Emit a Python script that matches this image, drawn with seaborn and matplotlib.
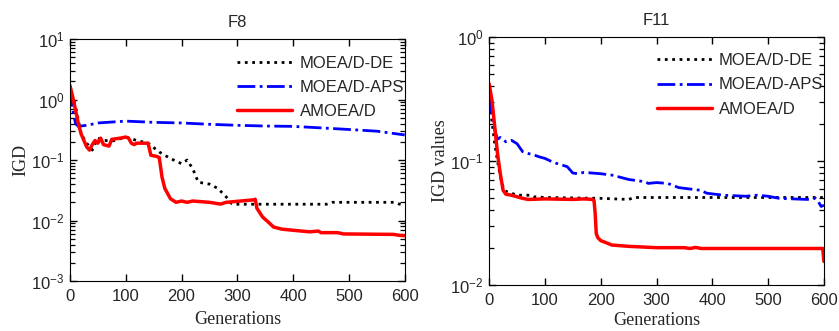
import numpy as np
import pandas as pd
import seaborn as sns
import matplotlib.pyplot as plt
from matplotlib.ticker import LogLocator, NullFormatter

# F8 curves (generation, IGD)
f8_gen_de = [0, 10, 20, 30, 40, 50, 60, 80, 100, 120, 140, 160, 180, 200, 210, 220, 230, 250, 265, 280, 290,
             300, 460, 470, 580, 600]
f8_de = [1.6, 0.76, 0.27, 0.19, 0.146, 0.23, 0.21, 0.21, 0.24, 0.21, 0.19, 0.136, 0.106, 0.087, 0.1, 0.072,
         0.043, 0.04, 0.034, 0.0246, 0.019, 0.0186, 0.0186, 0.02, 0.02, 0.0176]

f8_gen_aps = [0, 5, 10, 15, 30, 50, 100, 150, 200, 250, 300, 350, 400, 450, 500, 550, 580, 600]
f8_aps = [1.5, 0.67, 0.40, 0.36, 0.375, 0.41, 0.44, 0.42, 0.41, 0.39, 0.375, 0.365, 0.36, 0.34, 0.32, 0.30,
          0.275, 0.26]

f8_gen_am = [0, 5, 10, 15, 20, 25, 30, 35, 40, 45, 50, 55, 60, 70, 75, 90, 100, 105, 110, 115, 120, 140,
             145, 155, 160, 165, 170, 180, 190, 200, 210, 220, 250, 270, 280, 330, 332, 335, 345, 355, 365,
             380, 400, 430, 445, 450, 480, 490, 580, 590, 600]
f8_am = [1.7, 1.1, 0.67, 0.40, 0.27, 0.21, 0.165, 0.146, 0.18, 0.21, 0.19, 0.23, 0.18, 0.17, 0.22, 0.23, 0.24,
         0.23, 0.19, 0.18, 0.19, 0.19, 0.12, 0.115, 0.11, 0.052, 0.034, 0.023, 0.02, 0.021, 0.02, 0.021, 0.02,
         0.0187, 0.02, 0.022, 0.0225, 0.016, 0.0115, 0.0095, 0.0078, 0.0072, 0.0069, 0.0065, 0.0067, 0.0063,
         0.0063, 0.006, 0.0059, 0.0057, 0.0056]

# F11 curves
f11_gen_de = [0, 5, 10, 15, 20, 25, 30, 40, 50, 75, 80, 100, 200, 250, 260, 600]
f11_de = [0.33, 0.21, 0.138, 0.10, 0.075, 0.062, 0.057, 0.055, 0.053, 0.053, 0.0515, 0.0508, 0.05, 0.049,
          0.0508, 0.0508]

f11_gen_aps = [0, 5, 10, 15, 20, 30, 40, 50, 60, 70, 80, 90, 100, 110, 120, 130, 140, 150, 160, 170, 200,
               220, 230, 250, 280, 285, 300, 320, 340, 380, 390, 420, 460, 480, 500, 520, 570, 585, 590, 595,
               600]
f11_aps = [0.33, 0.24, 0.177, 0.15, 0.155, 0.143, 0.147, 0.138, 0.119, 0.115, 0.112, 0.108, 0.105, 0.10,
           0.096, 0.093, 0.09, 0.08, 0.079, 0.081, 0.079, 0.077, 0.075, 0.071, 0.068, 0.066, 0.067, 0.066,
           0.061, 0.058, 0.055, 0.053, 0.052, 0.053, 0.052, 0.05, 0.049, 0.05, 0.047, 0.043, 0.044]

f11_gen_am = [0, 5, 10, 15, 20, 25, 30, 40, 50, 60, 70, 100, 150, 170, 185, 188, 190, 192, 195, 200, 210,
              220, 250, 260, 300, 350, 360, 370, 380, 598, 600]
f11_am = [0.42, 0.31, 0.19, 0.115, 0.079, 0.058, 0.054, 0.053, 0.0515, 0.05, 0.049, 0.0495, 0.049, 0.0495,
          0.049, 0.048, 0.038, 0.026, 0.024, 0.0228, 0.0219, 0.021, 0.0205, 0.0204, 0.02, 0.02, 0.0197,
          0.0201, 0.0197, 0.0197, 0.0155]

labels = ['MOEA/D-DE', 'MOEA/D-APS', 'AMOEA/D']
colors = ['black', 'blue', 'red']
styles = [':', '-.', '-']
widths = [2.0, 2.0, 2.5]

sns.set_style("ticks")
plt.rcParams['font.family'] = ['Liberation Sans', 'DejaVu Sans']
plt.rcParams['mathtext.fontset'] = 'custom'
plt.rcParams['mathtext.rm'] = 'Liberation Sans'

fig = plt.figure(figsize=(8.39, 3.31), dpi=100)
ax1 = fig.add_axes([0.0834, 0.151, 0.399, 0.731])
ax2 = fig.add_axes([0.583, 0.139, 0.399, 0.749])

panels = [
    (ax1, 'F8', 'IGD', (1e-3, 1e1),
     [(f8_gen_de, f8_de), (f8_gen_aps, f8_aps), (f8_gen_am, f8_am)], 0.93, 5),
    (ax2, 'F11', 'IGD values', (1e-2, 1e0),
     [(f11_gen_de, f11_de), (f11_gen_aps, f11_aps), (f11_gen_am, f11_am)], 0.935, 3),
]

for ax, title, ylabel, ylim, series, leg_y, xpad in panels:
    for (g, v), lab, c, ls, lw in zip(series, labels, colors, styles, widths):
        df = pd.DataFrame({'Generations': g, 'IGD': v})
        sns.lineplot(data=df, x='Generations', y='IGD', ax=ax, color=c, linestyle=ls,
                     linewidth=lw, label=lab)
    ax.set_yscale('log')
    ax.set_xlim(0, 600)
    ax.set_ylim(*ylim)
    ax.set_xticks([0, 100, 200, 300, 400, 500, 600])
    ax.yaxis.set_minor_locator(LogLocator(base=10, subs=np.arange(2, 10), numticks=100))
    ax.yaxis.set_minor_formatter(NullFormatter())
    ax.tick_params(which='both', direction='in', top=True, right=True, bottom=True, left=True,
                   labelsize=12, color='black')
    ax.tick_params(axis='x', pad=6)
    ax.tick_params(axis='y', pad=4)
    ax.tick_params(which='major', length=5, width=1.0)
    ax.tick_params(axis='y', which='minor', length=3.5, width=0.9)
    ax.set_title(title, fontsize=12, pad=9)
    ax.set_xlabel('Generations', family=['Liberation Serif'], fontsize=13, labelpad=xpad)
    ax.set_ylabel(ylabel, family=['Liberation Serif'], fontsize=13, labelpad=1)
    for sp in ax.spines.values():
        sp.set_linewidth(0.8)
        sp.set_color('black')
    ax.legend(loc='upper left', bbox_to_anchor=(0.5, leg_y), frameon=False, fontsize=12,
              handlelength=3.3, handletextpad=0.45, borderpad=0, borderaxespad=0, labelspacing=0.55)

plt.savefig('out.png', dpi=100)
plt.close()
